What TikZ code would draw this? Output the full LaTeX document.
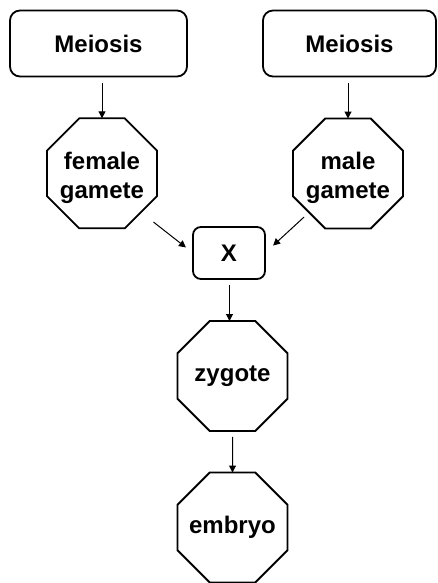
\documentclass[tikz,border=0pt]{standalone}
\usepackage{fontspec}
\setmainfont{Liberation Sans}
\usetikzlibrary{shapes.geometric,arrows.meta}
\newcommand{\lowtext}[1]{\raisebox{-4.5pt}[\height][\depth]{\begin{tabular}{@{}c@{}}#1\end{tabular}}}
\begin{document}
\begin{tikzpicture}[x=1pt,y=-1pt,
  every node/.style={font=\fontsize{24}{29}\selectfont\bfseries, align=center, outer sep=0pt, inner sep=0pt},
  stepbox/.style={draw, line width=1.8pt, rounded corners=10pt, minimum width=177pt, minimum height=66pt},
  xbox/.style={draw, line width=1.8pt, rounded corners=8pt, minimum width=72pt, minimum height=52pt},
  octa/.style={draw, line width=1.8pt, regular polygon, regular polygon sides=8, minimum size=119pt, inner sep=-15pt},
  arr/.style={line width=1pt, -{Triangle[length=7pt,width=7pt]}}]
\useasboundingbox (0,0) rectangle (437,583);
\node[stepbox] (m1) at (98.5,43.5) {Meiosis};
\node[stepbox, minimum width=173pt] (m2) at (349.5,43.5) {Meiosis};
\node[octa] (fem) at (102,173.3) {\lowtext{female\\gamete}};
\node[octa] (male) at (348,173.5) {\lowtext{male\\gamete}};
\node[xbox] (X) at (229,253) {X};
\node[octa] (zyg) at (232.5,376) {zygote};
\node[octa] (emb) at (232.5,527.5) {embryo};
\draw[arr, shorten <=7pt] (fem.north |- m1.south) -- (fem.north);
\draw[arr, shorten <=7pt] (male.north |- m2.south) -- (male.north);
\draw[arr, shorten <=16pt, shorten >=9pt] (fem.south east) -- (X.west);
\draw[arr, shorten <=7pt, shorten >=11pt] (male.south west) -- (X.east);
\draw[arr, shorten <=6pt] ([xshift=0.5pt]X.south) -- ([xshift=0.5pt]X.south |- zyg.north);
\draw[arr, shorten <=6pt] (zyg.south) -- (emb.north);
\end{tikzpicture}
\end{document}
